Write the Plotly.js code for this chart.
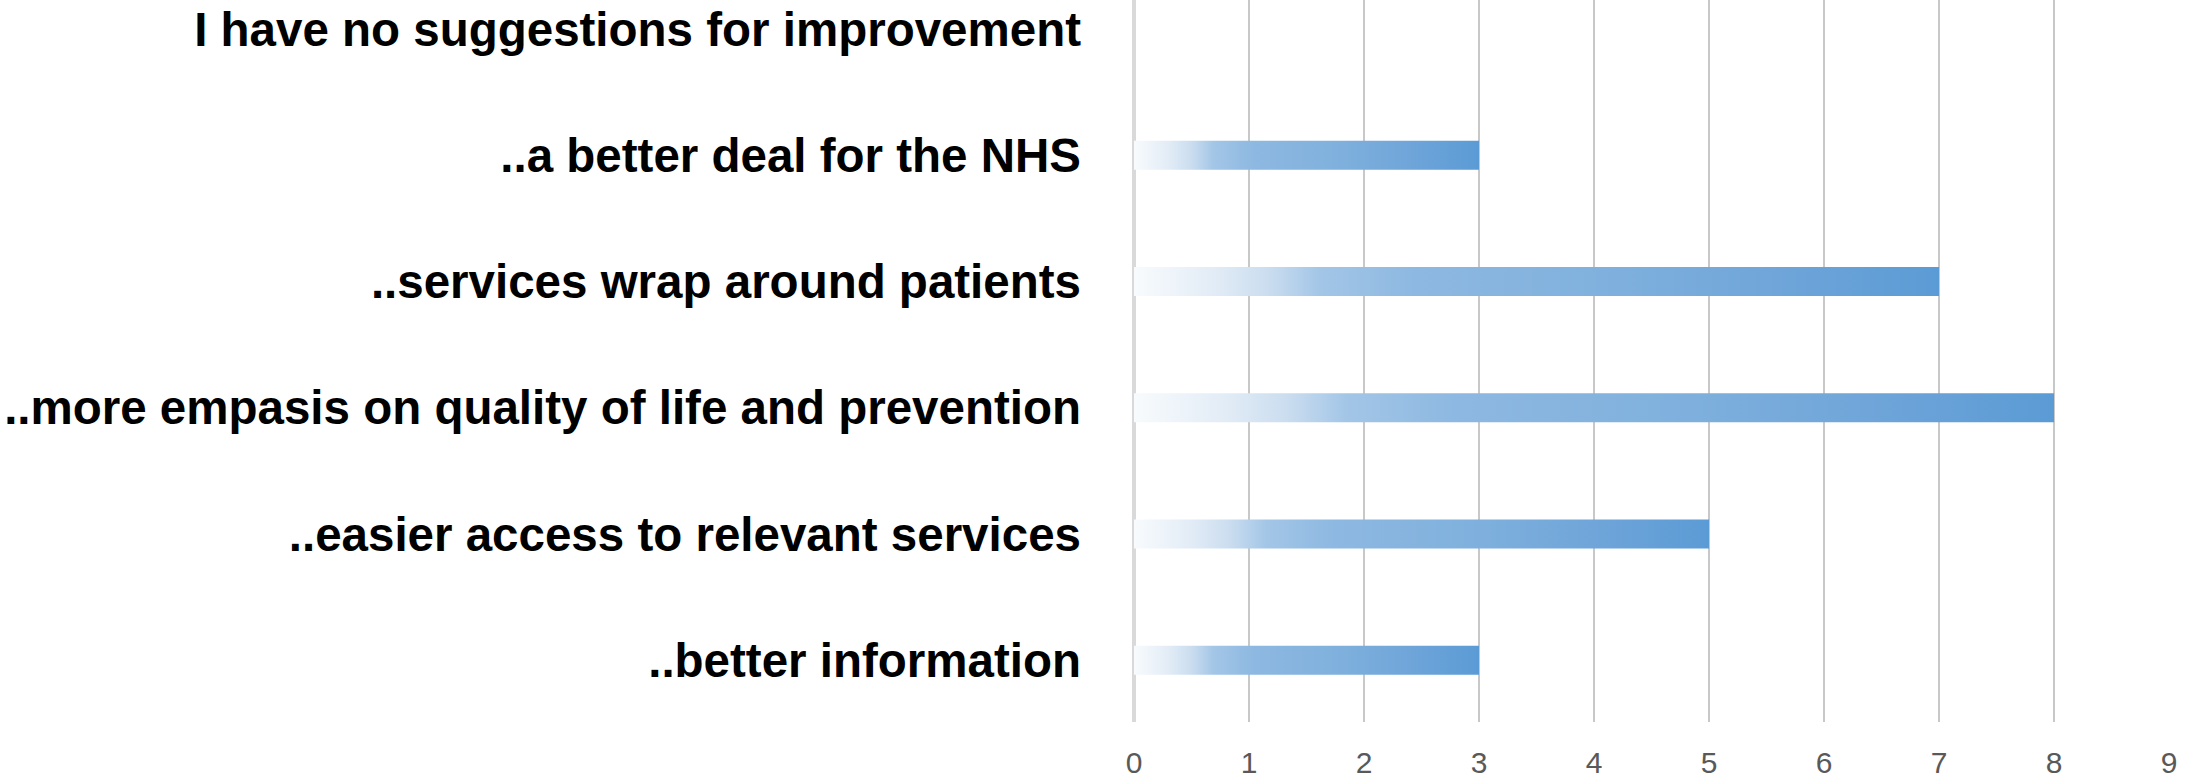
<!DOCTYPE html>
<html>
<head>
<meta charset="utf-8">
<script src="https://cdn.plot.ly/plotly-3.0.1.min.js"></script>
<style>
  html, body { margin: 0; padding: 0; background: #ffffff; }
  #chart { width: 2196px; height: 781px; }
</style>
</head>
<body>
<div id="chart"></div>
<script>
// Categories (bottom to top) and values
const categories = [
  "..better information",
  "..easier access to relevant services",
  "..more empasis on quality of life and prevention",
  "..services wrap around patients",
  "..a better deal for the NHS",
  "I have no suggestions for improvement"
];
const values = [3, 5, 8, 7, 3, 0];
const xTickValues = [0, 1, 2, 3, 4, 5, 6, 7, 8, 9];

const trace = {
  type: "bar",
  orientation: "h",
  y: categories,
  x: values,
  width: 0.23,
  marker: { color: "#7fb0dd", line: { width: 0 } },
  hoverinfo: "x+y"
};

const layout = {
  width: 2196,
  height: 781,
  margin: { l: 1134, r: 27, t: 0, b: 59, pad: 0 },
  paper_bgcolor: "#ffffff",
  plot_bgcolor: "#ffffff",
  showlegend: false,
  bargap: 0.77,
  xaxis: {
    range: [0, 9],
    tickvals: xTickValues,
    ticktext: xTickValues.map(String),
    showgrid: true,
    gridcolor: "#c8c8c8",
    gridwidth: 1.7,
    zeroline: true,
    zerolinecolor: "#d9d9d9",
    zerolinewidth: 4,
    showline: false,
    ticks: "",
    ticklabelstandoff: 20,
    tickfont: { family: "Liberation Sans Narrow, Liberation Sans, sans-serif", size: 30, color: "#595959" },
    fixedrange: true
  },
  yaxis: {
    type: "category",
    range: [-0.49, 5.23],
    showgrid: false,
    zeroline: false,
    showline: false,
    ticks: "",
    ticklabelstandoff: 52,
    tickfont: { family: "Liberation Sans Narrow, Liberation Sans, sans-serif", size: 47.5, color: "#000000", weight: "bold" },
    fixedrange: true
  }
};

function applyGradient(gd) {
  const svg = gd.querySelector("svg.main-svg");
  if (!svg) return;
  const ns = "http://www.w3.org/2000/svg";
  let defs = svg.querySelector("defs");
  if (!defs) { defs = document.createElementNS(ns, "defs"); svg.insertBefore(defs, svg.firstChild); }
  if (!svg.querySelector("#barGrad")) {
    const grad = document.createElementNS(ns, "linearGradient");
    grad.setAttribute("id", "barGrad");
    grad.setAttribute("x1", "0"); grad.setAttribute("y1", "0");
    grad.setAttribute("x2", "1"); grad.setAttribute("y2", "0");
    const stops = [
      [0, "#f8fbfd"], [0.1, "#e2ecf6"], [0.17, "#c9dcef"], [0.23, "#a3c6e7"],
      [0.35, "#8db8e1"], [0.6, "#7fb0dd"], [0.8, "#6fa5d9"], [1, "#5b9bd5"]
    ];
    stops.forEach(([o, c]) => {
      const s = document.createElementNS(ns, "stop");
      s.setAttribute("offset", o);
      s.setAttribute("stop-color", c);
      grad.appendChild(s);
    });
    defs.appendChild(grad);
  }
  gd.querySelectorAll(".barlayer .point path").forEach(p => {
    p.style.fill = "url(#barGrad)";
    p.style.fillOpacity = 1;
  });
}

const gd = document.getElementById("chart");
Plotly.newPlot(gd, [trace], layout, { displayModeBar: false, staticPlot: true }).then(() => {
  applyGradient(gd);
  gd.on && gd.on("plotly_afterplot", () => applyGradient(gd));
});
</script>
</body>
</html>
